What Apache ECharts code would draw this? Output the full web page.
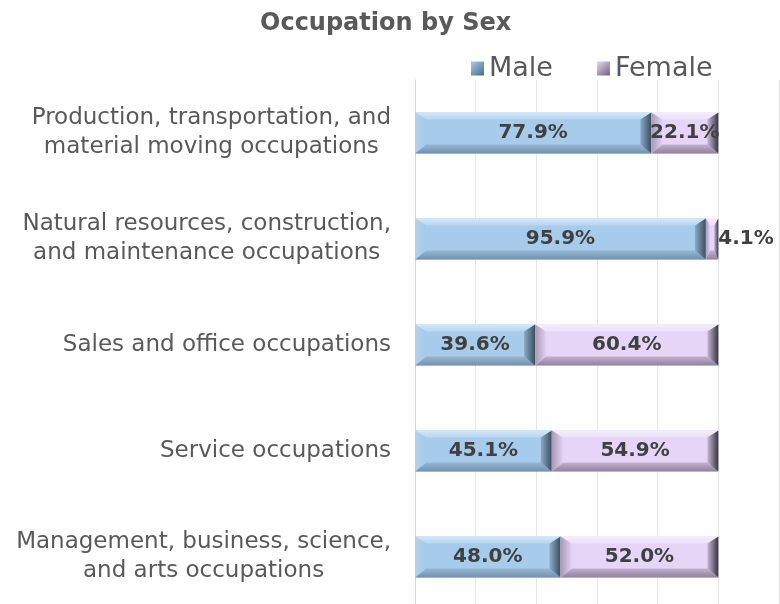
<!DOCTYPE html>
<html>
<head>
<meta charset="utf-8">
<script src="https://cdn.jsdelivr.net/npm/echarts@6/dist/echarts.min.js"></script>
<style>
  html, body { margin: 0; padding: 0; background: #fff; overflow: hidden; }
  #chart { width: 780px; height: 612px; }
</style>
</head>
<body>
<div id="chart"></div>
<script>
const categories = [
  "Production, transportation, and\nmaterial moving occupations",
  "Natural resources, construction,\nand maintenance occupations",
  "Sales and office occupations",
  "Service occupations",
  "Management, business, science,\nand arts occupations",
];
const maleShare = [77.9, 95.9, 39.6, 45.1, 48.0];
const femaleShare = [22.1, 4.1, 60.4, 54.9, 52.0];

const FONT = '"DejaVu Sans", sans-serif';
const TEXT = "#595959";

function grad(x2, y2, from, to) {
  return new echarts.graphic.LinearGradient(0, 0, x2, y2, [
    { offset: 0, color: from },
    { offset: 1, color: to },
  ]);
}

// bevel shading for each series: face, top, bottom, left, right
const palettes = {
  male: {
    face: "#A7CBEA",
    top: ["#D4E8F8", "#B6D6F1"],
    bottom: ["#97B8D5", "#7190AB"],
    left: ["#B3D3EE", "#A5C9E8"],
    right: ["#8AABC8", "#3C4C5C"],
  },
  female: {
    face: "#E6D5F6",
    top: ["#F5EDFC", "#ECDFF9"],
    bottom: ["#C2B1D1", "#8F809C"],
    left: ["#A798B5", "#E2D2F2"],
    right: ["#C9B8D8", "#3A3442"],
  },
};

function makeBevel(pal) {
  return function (params, api) {
    const cat = api.value(0);
    const start = api.value(1);
    const end = api.value(2);
    const a = api.coord([start, cat]);
    const b = api.coord([end, cat]);
    const h = 41;
    const x0 = a[0], x1 = b[0];
    const y0 = a[1] - h / 2, y1 = a[1] + h / 2;
    const w = x1 - x0;
    const bx = Math.min(11, w / 3);
    const bt = 7, bb = 9;
    const poly = (pts, fill) => ({ type: "polygon", shape: { points: pts }, style: { fill } });
    const children = [
      { type: "rect", shape: { x: x0, y: y0, width: w, height: h }, style: { fill: pal.face } },
      poly([[x0, y0], [x1, y0], [x1 - bx, y0 + bt], [x0 + bx, y0 + bt]], grad(0, 1, pal.top[0], pal.top[1])),
      poly([[x0 + bx, y1 - bb], [x1 - bx, y1 - bb], [x1, y1], [x0, y1]], grad(0, 1, pal.bottom[0], pal.bottom[1])),
      poly([[x0, y0], [x0 + bx, y0 + bt], [x0 + bx, y1 - bb], [x0, y1]], grad(1, 0, pal.left[0], pal.left[1])),
      poly([[x1 - bx, y0 + bt], [x1, y0], [x1, y1], [x1 - bx, y1 - bb]], grad(1, 0, pal.right[0], pal.right[1])),
    ];
    const label = (end - start).toFixed(1) + "%";
    const labelW = label.length * 12;
    const outside = w < labelW - 10;
    children.push({
      type: "text",
      style: {
        text: label,
        x: outside ? x1 : (x0 + x1) / 2,
        y: a[1],
        align: outside ? "left" : "center",
        verticalAlign: "middle",
        fill: "#404040",
        fontSize: 20,
        fontWeight: "bold",
        fontFamily: FONT,
      },
    });
    return { type: "group", children };
  };
}

const maleData = maleShare.map((v, i) => [i, 0, v]);
const femaleData = femaleShare.map((v, i) => [i, maleShare[i], maleShare[i] + v]);

const chart = echarts.init(document.getElementById("chart"));
chart.setOption({
  animation: false,
  title: {
    text: "Occupation by Sex",
    left: 255,
    top: 7,
    textStyle: { color: TEXT, fontSize: 24, fontWeight: "bold", fontFamily: FONT },
  },
  legend: {
    top: 50,
    left: 466,
    itemWidth: 13,
    itemHeight: 14,
    itemGap: 44,
    icon: "rect",
    textStyle: { color: TEXT, fontSize: 27, fontFamily: FONT },
    data: [
      { name: "Male", itemStyle: { color: grad(1, 1, "#A9CDEB", "#4E6A84") } },
      { name: "Female", itemStyle: { color: grad(1, 1, "#E8D8F6", "#6E6178") } },
    ],
  },
  grid: { left: 415, top: 80, width: 364, height: 530 },
  xAxis: {
    type: "value",
    min: 0,
    max: 120,
    interval: 20,
    axisLabel: { show: false },
    axisLine: { show: false },
    axisTick: { show: false },
    splitLine: { lineStyle: { color: "#E8E8E8", width: 1 } },
  },
  yAxis: {
    type: "category",
    inverse: true,
    data: categories,
    axisLine: { show: true, lineStyle: { color: "#D4D4D4" } },
    axisTick: { show: false },
    axisLabel: {
      margin: 24,
      color: TEXT,
      fontSize: 23,
      fontFamily: FONT,
      lineHeight: 29,
      formatter: (v) => v.split("\n").map((l) => "{c|" + l + "}").join("\n"),
      rich: { c: { align: "center", color: TEXT, fontSize: 23, fontFamily: FONT, lineHeight: 29 } },
    },
  },
  series: [
    {
      name: "Male",
      type: "custom",
      renderItem: makeBevel(palettes.male),
      encode: { x: [1, 2], y: 0 },
      itemStyle: { color: "#A7CBEA" },
      data: maleData,
    },
    {
      name: "Female",
      type: "custom",
      renderItem: makeBevel(palettes.female),
      encode: { x: [1, 2], y: 0 },
      itemStyle: { color: "#E6D5F6" },
      data: femaleData,
    },
  ],
});
</script>
</body>
</html>
